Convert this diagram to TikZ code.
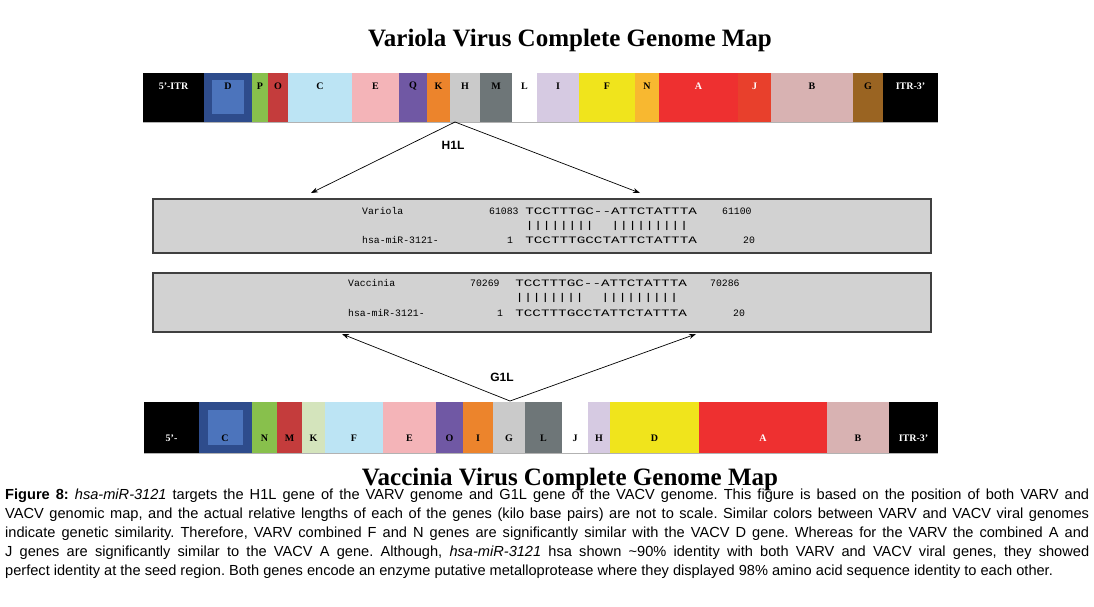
\documentclass[tikz,border=0pt]{standalone}
\usepackage{fontspec}
\usetikzlibrary{arrows.meta}
\setmainfont{Liberation Serif}
\setsansfont{Liberation Sans}
\setmonofont{Liberation Mono}
\definecolor{cD}{HTML}{2E4C8C}\definecolor{cDi}{HTML}{4C74BC}
\definecolor{cP}{HTML}{88C04C}\definecolor{cO}{HTML}{C43C3C}
\definecolor{cC}{HTML}{BCE4F4}\definecolor{cE}{HTML}{F4B4B8}
\definecolor{cQ}{HTML}{7058A4}\definecolor{cK}{HTML}{EC842C}
\definecolor{cH}{HTML}{CACACA}\definecolor{cM}{HTML}{6E7678}
\definecolor{cI}{HTML}{D6CAE2}\definecolor{cF}{HTML}{F0E41C}
\definecolor{cN}{HTML}{F8B830}\definecolor{cA}{HTML}{EE3030}
\definecolor{cJ}{HTML}{E8402C}\definecolor{cB}{HTML}{D8B2B2}
\definecolor{cG}{HTML}{9A6422}\definecolor{cKl}{HTML}{D4E4BC}
\definecolor{boxg}{HTML}{D2D2D2}
\tikzset{
 seglab/.style={font=\rmfamily\bfseries\fontsize{10}{11}\selectfont},
 aln/.style={draw=black!75,line width=1.3pt,fill=boxg,inner sep=0},
 mono/.style={font=\ttfamily\fontsize{9.8}{10}\selectfont,anchor=west,inner sep=0},
 seq/.style={mono,xscale=1.46,transform shape},
 arr/.style={-{Stealth[length=7pt,width=5pt]},line width=0.7pt},
 ttl/.style={font=\rmfamily\bfseries\fontsize{25}{27}\selectfont},
 glab/.style={font=\sffamily\bfseries\fontsize{12}{13}\selectfont}
}
\begin{document}
\begin{tikzpicture}[x=1pt,y=-1pt]
\useasboundingbox (0,0) rectangle (1094,606);
\node[ttl] (t1) at (570,40) {Variola Virus Complete Genome Map};
% top bar
\foreach \a/\b/\c/\l/\tc [count=\i] in {143/204/black/5'-ITR/white,204/252/cD//black,252/268/cP/P/black,268/288/cO/O/black,288/352/cC/C/black,352/399/cE/E/black,399/427/cQ/Q/black,427/450/cK/K/black,450/480/cH/H/black,480/512/cM/M/black,512/537/white/L/black,537/579/cI/I/black,579/635/cF/F/black,635/659/cN/N/black,659/738/cA/A/white,738/771/cJ/J/white,771/853/cB/B/black,853/883/cG/G/black,883/938/black/ITR-3'/white}{
 \fill[\c] (\a,73) rectangle (\b,122);
 \node[seglab,text=\tc] (v\i) at ({(\a+\b)/2},86) {\l};
}
\fill[cDi] (212,80) rectangle (244,114);
\node[seglab] (vD) at (228,86) {D};
\draw[gray!60,line width=1pt] (143,122) -- (938,122);
% bottom bar
\foreach \a/\b/\c/\l/\tc [count=\i] in {144/199/black/5'-/white,199/252/cD//black,252/277/cP/N/black,277/302/cO/M/black,302/325/cKl/K/black,325/383/cC/F/black,383/436/cE/E/black,436/463/cQ/O/black,463/493/cK/I/black,493/525/cH/G/black,525/562/cM/L/black,562/588/white/J/black,588/610/cI/H/black,610/699/cF/D/black,699/827/cA/A/white,827/889/cB/B/black,889/938/black/ITR-3'/white}{
 \fill[\c] (\a,402) rectangle (\b,453);
 \node[seglab,text=\tc] (w\i) at ({(\a+\b)/2},438) {\l};
}
\fill[cDi] (208,410) rectangle (243,445);
\node[seglab] (wC) at (225,438) {C};
\draw[gray!60,line width=1pt] (144,453) -- (938,453);
\node[ttl] (t2) at (570,479) {Vaccinia Virus Complete Genome Map};
% alignment boxes
\node[aln,minimum width=778pt,minimum height=54pt] (b1) at (542,226) {};
\node[aln,minimum width=778pt,minimum height=59pt] (b2) at (542,302.5) {};
\node[mono] (a1) at (362,211) {Variola};
\node[mono] (a2) at (489,211) {61083};
\node[seq]  (a3) at (525,211) {TCCTTTGC--ATTCTATTTA};
\node[mono] (a4) at (722,211) {61100};
\node[seq]  (a5) at (525,226) {||||||||\ \ |||||||||};
\node[mono] (a6) at (362,240) {hsa-miR-3121-};
\node[mono] (a7) at (507,240) {1};
\node[seq]  (a8) at (525,240) {TCCTTTGCCTATTCTATTTA};
\node[mono] (a9) at (743,240) {20};
\node[mono] (c1) at (348,283) {Vaccinia};
\node[mono] (c2) at (470,283) {70269};
\node[seq]  (c3) at (515,283) {TCCTTTGC--ATTCTATTTA};
\node[mono] (c4) at (710,283) {70286};
\node[seq]  (c5) at (515,298) {||||||||\ \ |||||||||};
\node[mono] (c6) at (348,313) {hsa-miR-3121-};
\node[mono] (c7) at (497,313) {1};
\node[seq]  (c8) at (515,313) {TCCTTTGCCTATTCTATTTA};
\node[mono] (c9) at (733,313) {20};
% arrows
\node[glab] (h1l) at (453,145) {H1L};
\node[glab] (g1l) at (502,377) {G1L};
\coordinate (hs) at (455,122);
\coordinate (ha) at (311,193);
\coordinate (hb) at (640,193);
\draw[arr] (hs) -- (ha);
\draw[arr] (hs) -- (hb);
\coordinate (gs) at (510,401);
\coordinate (ga) at (342,334);
\coordinate (gb) at (696,334);
\draw[arr] (gs) -- (ga);
\draw[arr] (gs) -- (gb);
% caption
\node[anchor=north west,inner sep=0,text width=1084pt,align=justify,font=\sffamily\fontsize{14.6}{19}\selectfont] (cap) at (5,489) {\frenchspacing\textbf{Figure 8:} \textit{hsa-miR-3121} targets the H1L gene of the VARV genome and G1L gene of the VACV genome. This figure is based on the position of both VARV and\linebreak VACV genomic map, and the actual relative lengths of each of the genes (kilo base pairs) are not to scale. Similar colors between VARV and VACV viral genomes\linebreak indicate genetic similarity. Therefore, VARV combined F and N genes are significantly similar with the VACV D gene. Whereas for the VARV the combined A and\linebreak J genes are significantly similar to the VACV A gene. Although, \textit{hsa-miR-3121} hsa shown \textasciitilde 90\% identity with both VARV and VACV viral genes, they showed\linebreak perfect identity at the seed region. Both genes encode an enzyme putative metalloprotease where they displayed 98\% amino acid sequence identity to each other.};
\end{tikzpicture}
\end{document}
